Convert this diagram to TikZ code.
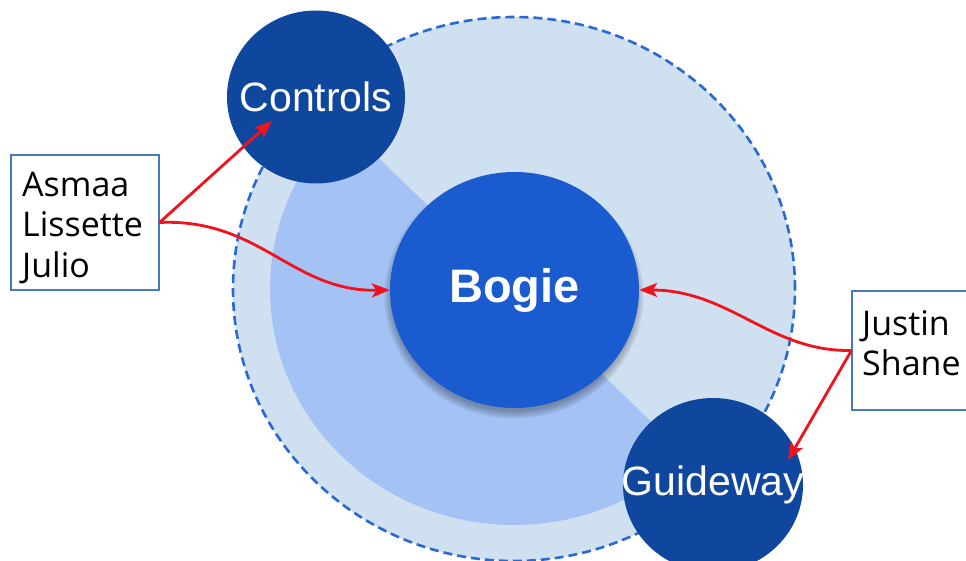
\documentclass[tikz,border=0pt]{standalone}
\usepackage{fontspec}
\setmainfont{Open Sans}
\newfontfamily\circfont{Liberation Sans}
\usetikzlibrary{shapes.geometric,arrows.meta}
\definecolor{bgblue}{HTML}{CFE0F1}
\definecolor{secblue}{HTML}{A4C2F4}
\definecolor{dashblue}{HTML}{2A68D4}
\definecolor{darkblue}{HTML}{0F479E}
\definecolor{midblue}{HTML}{1A5BCF}
\definecolor{arrowred}{HTML}{F2121C}
\definecolor{boxline}{HTML}{4A78BE}
\tikzset{
  satellite/.style={ellipse, fill=darkblue, inner sep=0pt,
    label={[text=white, inner sep=0pt, font=\circfont\fontsize{41}{41}\selectfont]center:#1}},
  hub/.style={ellipse, fill=midblue, inner sep=0pt,
    label={[text=white, inner sep=0pt, font=\circfont\bfseries\fontsize{47}{47}\selectfont]center:#1}},
  namebox/.style={draw=boxline, line width=1.1pt, fill=white, rectangle, inner sep=0pt},
  namelab/.style={inner sep=0pt, font=\fontsize{34}{40}\selectfont, text=black},
  link/.style={draw=arrowred, line width=2.8pt, -{Stealth[length=18pt,width=14pt,inset=4.5pt]}},
}
\begin{document}
\begin{tikzpicture}[x=1pt,y=1pt]
\clip (0,0) rectangle (966,-561);
\fill[white] (0,0) rectangle (966,-561);
% outer dashed region
\fill[bgblue] (514,-289) ellipse [x radius=281, y radius=272];
\draw[dashblue, line width=2.6pt, dash pattern=on 9pt off 5pt] (514,-289) ellipse [x radius=281, y radius=272];
% lighter sector
\fill[secblue] (514,-289) -- ++(135:244 and 236) arc[start angle=135, end angle=315, x radius=244, y radius=236] -- cycle;
% satellites
\node[satellite=Controls, minimum width=178pt, minimum height=173pt] (controls) at (316,-97) {};
\node[satellite=Guideway, minimum width=180pt, minimum height=174pt] (guideway) at (713,-485) {};
% shadow of hub
\foreach \i in {1,...,9}
  \fill[black, opacity=0.035] (514,-296) ellipse [x radius={121+\i}, y radius={114+\i}];
\node[hub=Bogie, minimum width=249pt, minimum height=236pt] (bogie) at (514.5,-290) {};
% name boxes
\node[namebox, minimum width=148pt, minimum height=135pt] (box1) at (85,-222.5) {};
\node[namelab, anchor=base west] (n1) at (22,-197) {Asmaa};
\node[namelab, anchor=base west] (n2) at (22,-237) {Lissette};
\node[namelab, anchor=base west] (n3) at (22,-277) {Julio};
\node[namebox, minimum width=140pt, minimum height=119pt] (box2) at (922,-350.5) {};
\node[namelab, anchor=base west] (n4) at (862,-335) {Justin};
\node[namelab, anchor=base west] (n5) at (862,-375) {Shane};
% arrow targets
\coordinate (ctip) at (272,-121);
\coordinate (gtip) at (788,-460);
% connectors
\draw[link] (box1.east) -- (ctip);
\draw[link] (box1.east) .. controls (260,-218) and (292,-292) .. (bogie.west);
\draw[link] (box2.west) .. controls (770,-352) and (730,-290) .. (bogie.east);
\draw[link] (box2.west) -- (gtip);
\end{tikzpicture}
\end{document}
